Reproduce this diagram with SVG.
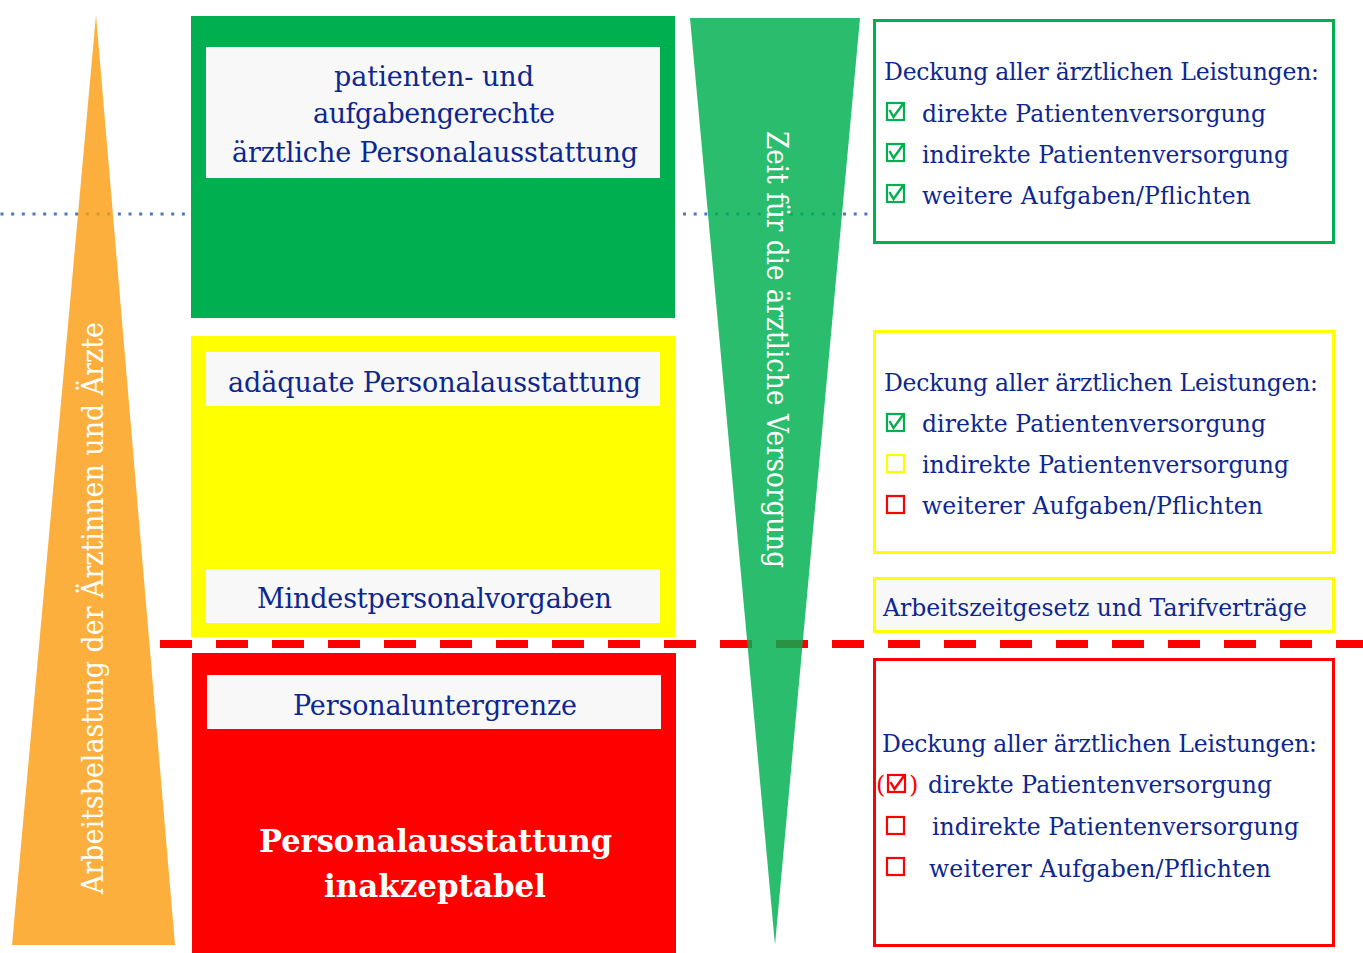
<svg xmlns="http://www.w3.org/2000/svg" xmlns:xlink="http://www.w3.org/1999/xlink" width="1363" height="953" viewBox="0 0 1363 953">
<style>
.t{font-family:"DejaVu Serif","Liberation Serif",serif;fill:#0d2790;}
.h{font-size:23.5px;}
.l{font-size:27px;text-anchor:middle;}
.w{font-family:"DejaVu Serif","Liberation Serif",serif;fill:#ffffff;}
.inner{fill:#f8f8f8;}
.frame{fill:#ffffff;stroke-width:3;}
</style>
<defs>
<rect id="cbox" x="0" y="0" width="17" height="17" fill="none" stroke="currentColor" stroke-width="2.2"/>
<g id="cchk"><use xlink:href="#cbox" href="#cbox"/><path d="M2.5 7 L6.5 14 L17 -0.5" fill="none" stroke="currentColor" stroke-width="2.4"/></g>
</defs>
<rect x="0" y="0" width="1363" height="953" fill="#ffffff"/>

<g id="box-green">
<rect x="191" y="16" width="484" height="302" fill="#00b050"/>
<rect class="inner" x="206" y="47" width="454" height="131"/>
<text class="t l" x="434" y="86" textLength="200">patienten- und</text>
<text class="t l" x="434" y="123" textLength="242">aufgabengerechte</text>
<text class="t l" x="435" y="162" textLength="406">ärztliche Personalausstattung</text>
</g>

<g id="box-yellow">
<rect x="191" y="336" width="484" height="301" fill="#ffff00"/>
<rect class="inner" x="206" y="352" width="454" height="54"/>
<rect class="inner" x="206" y="569" width="454" height="54"/>
<text class="t l" x="434.5" y="392" textLength="413">adäquate Personalausstattung</text>
<text class="t l" x="434.5" y="608" textLength="355">Mindestpersonalvorgaben</text>
</g>

<g id="box-red">
<rect x="192" y="653" width="484" height="300" fill="#ff0000"/>
<rect class="inner" x="207" y="675" width="454" height="54"/>
<text class="t l" x="435" y="715" textLength="284">Personaluntergrenze</text>
<text class="w" x="435.5" y="852" font-size="31" font-weight="bold" text-anchor="middle" textLength="353" lengthAdjust="spacingAndGlyphs">Personalausstattung</text>
<text class="w" x="435" y="897" font-size="31" font-weight="bold" text-anchor="middle" textLength="222" lengthAdjust="spacingAndGlyphs">inakzeptabel</text>
</g>

<g id="info-green">
<rect class="frame" x="874.5" y="20.5" width="459" height="222" stroke="#00b050"/>
<text class="t h" x="884" y="80" textLength="435">Deckung aller ärztlichen Leistungen:</text>
<use xlink:href="#cchk" href="#cchk" x="887" y="103" color="#00b050"/>
<text class="t h" x="922" y="122" textLength="344">direkte Patientenversorgung</text>
<use xlink:href="#cchk" href="#cchk" x="887" y="144" color="#00b050"/>
<text class="t h" x="922" y="163" textLength="367">indirekte Patientenversorgung</text>
<use xlink:href="#cchk" href="#cchk" x="887" y="185" color="#00b050"/>
<text class="t h" x="922" y="204" textLength="329">weitere Aufgaben/Pflichten</text>
</g>

<g id="info-yellow">
<rect class="frame" x="874.5" y="331.5" width="459" height="221" stroke="#ffff00"/>
<text class="t h" x="884" y="391" textLength="434">Deckung aller ärztlichen Leistungen:</text>
<use xlink:href="#cchk" href="#cchk" x="887" y="414" color="#00b050"/>
<text class="t h" x="922" y="432" textLength="344">direkte Patientenversorgung</text>
<use xlink:href="#cbox" href="#cbox" x="887" y="455" color="#ffff00"/>
<text class="t h" x="922" y="473" textLength="367">indirekte Patientenversorgung</text>
<use xlink:href="#cbox" href="#cbox" x="887" y="496" color="#ff0000"/>
<text class="t h" x="922" y="514" textLength="341">weiterer Aufgaben/Pflichten</text>
</g>

<g id="info-law">
<rect x="874.5" y="578.5" width="459" height="53" fill="#f8f8f8" stroke="#ffff00" stroke-width="3"/>
<text class="t h" x="883" y="616" textLength="424">Arbeitszeitgesetz und Tarifverträge</text>
</g>

<g id="info-red">
<rect class="frame" x="874.5" y="659.5" width="459" height="286" stroke="#ff0000"/>
<text class="t h" x="882" y="752" textLength="435">Deckung aller ärztlichen Leistungen:</text>
<text x="876" y="793" font-family="DejaVu Serif, Liberation Serif, serif" font-size="24" fill="#ff0000">(</text>
<use xlink:href="#cchk" href="#cchk" x="888" y="775" color="#ff0000"/>
<text x="909" y="793" font-family="DejaVu Serif, Liberation Serif, serif" font-size="24" fill="#ff0000">)</text>
<text class="t h" x="928" y="793" textLength="344">direkte Patientenversorgung</text>
<use xlink:href="#cbox" href="#cbox" x="887" y="817" color="#ff0000"/>
<text class="t h" x="932" y="835" textLength="367">indirekte Patientenversorgung</text>
<use xlink:href="#cbox" href="#cbox" x="887" y="858" color="#ff0000"/>
<text class="t h" x="929" y="877" textLength="342">weiterer Aufgaben/Pflichten</text>
</g>

<g id="connectors">
<line x1="0.5" y1="214" x2="187" y2="214" stroke="#4a78c2" stroke-width="3" stroke-dasharray="3 7.67"/>
<line x1="683" y1="214" x2="870" y2="214" stroke="#4a78c2" stroke-width="3" stroke-dasharray="3 7.67"/>
<line x1="160" y1="644" x2="1363" y2="644" stroke="#ff0000" stroke-width="8" stroke-dasharray="32 24"/>
</g>

<g id="tri-workload">
<polygon points="96,15 175,945 12,945" fill="#fb9d0f" fill-opacity="0.81"/>
<text class="w" x="103" y="894" font-size="30" textLength="572" lengthAdjust="spacingAndGlyphs" transform="rotate(-90 103 894)">Arbeitsbelastung der Ärztinnen und Ärzte</text>
</g>

<g id="tri-time">
<polygon points="690,18 860,18 775,945" fill="#00b050" fill-opacity="0.83"/>
<text class="w" x="767" y="131" font-size="30" textLength="437" lengthAdjust="spacingAndGlyphs" transform="rotate(90 767 131)">Zeit für die ärztliche Versorgung</text>
</g>
</svg>
